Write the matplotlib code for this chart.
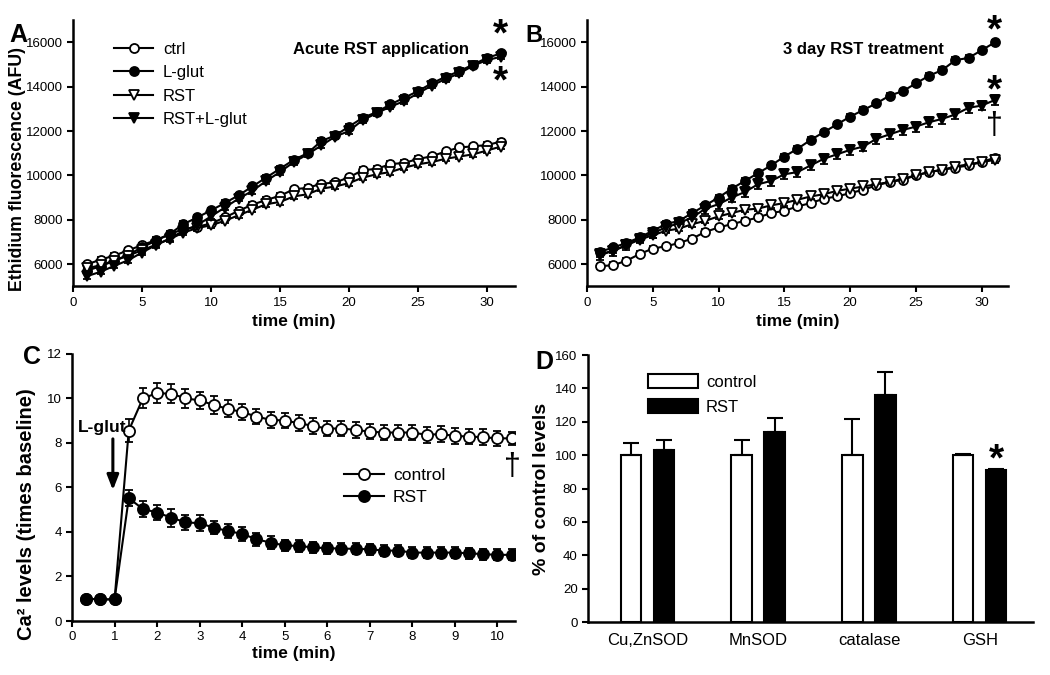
import numpy as np
import matplotlib
matplotlib.use('Agg')
import matplotlib.pyplot as plt

plt.rcParams['font.family'] = ['Liberation Sans', 'DejaVu Sans']

# panel A: acute RST application
t_ab = np.arange(1, 32)
a_ctrl = [5980, 6200, 6380, 6620, 6850, 7080, 7340, 7580, 7680, 7830, 8100, 8400, 8680, 8890, 9080,
          9370, 9440, 9620, 9680, 9910, 10240, 10290, 10510, 10560, 10740, 10860, 11080, 11260, 11310, 11370, 11520]
a_glut = [5700, 5900, 6150, 6420, 6750, 7050, 7350, 7800, 8100, 8420, 8750, 9100, 9500, 9900, 10300,
          10700, 11000, 11550, 11800, 12200, 12600, 12850, 13200, 13500, 13800, 14150, 14450, 14700, 15000, 15300, 15500]
a_rst = [5800, 5950, 6150, 6380, 6620, 6870, 7120, 7420, 7620, 7750, 7950, 8200, 8450, 8700, 8800,
         9050, 9150, 9400, 9500, 9650, 9900, 10050, 10150, 10350, 10500, 10600, 10750, 10850, 10950, 11120, 11300]
a_rstglut = [5450, 5650, 5920, 6170, 6520, 6850, 7150, 7500, 7750, 8150, 8550, 8950, 9300, 9750, 10150,
             10600, 10950, 11350, 11750, 12000, 12500, 12800, 13100, 13350, 13700, 14050, 14350, 14600, 14950, 15200, 15350]
a_err = 120

# panel B: 3 day RST treatment
b_ctrl = [5900, 5950, 6150, 6450, 6700, 6800, 6950, 7150, 7450, 7650, 7800, 7950, 8100, 8300, 8400,
          8600, 8750, 8950, 9050, 9200, 9350, 9550, 9700, 9800, 10000, 10150, 10250, 10350, 10450, 10600, 10800]
b_glut = [6550, 6750, 6950, 7200, 7500, 7800, 7950, 8300, 8650, 9000, 9400, 9750, 10100, 10450, 10850,
          11200, 11600, 11950, 12300, 12650, 12950, 13250, 13600, 13800, 14150, 14500, 14750, 15200, 15300, 15650, 16000]
b_rst = [6450, 6600, 6850, 7100, 7300, 7500, 7600, 7800, 7950, 8150, 8300, 8450, 8500, 8650, 8750,
         8900, 9050, 9150, 9300, 9400, 9500, 9600, 9700, 9850, 10000, 10150, 10250, 10400, 10500, 10600, 10700]
b_rstglut = [6400, 6600, 6850, 7150, 7400, 7650, 7850, 8100, 8500, 8700, 9000, 9250, 9600, 9750, 10050,
             10150, 10450, 10750, 10950, 11150, 11300, 11650, 11850, 12050, 12200, 12400, 12550, 12750, 13050, 13150, 13400]
b_err_small = 120
b_err_rg = 220

# panel C: Ca2+ levels
t_c = np.arange(1, 32) / 3.0
c_ctrl = [1.0, 0.97, 0.97, 8.55, 10.0, 10.23, 10.2, 10.0, 9.9, 9.7, 9.52, 9.38, 9.18, 9.03, 9.0,
          8.88, 8.76, 8.64, 8.64, 8.58, 8.5, 8.46, 8.46, 8.46, 8.36, 8.39, 8.31, 8.28, 8.25, 8.2, 8.2]
c_ctrl_err = [0.1, 0.1, 0.1, 0.5, 0.45, 0.45, 0.42, 0.42, 0.4, 0.4, 0.38, 0.36, 0.35, 0.35, 0.35,
              0.35, 0.35, 0.35, 0.35, 0.35, 0.35, 0.35, 0.35, 0.35, 0.35, 0.35, 0.35, 0.35, 0.35, 0.35, 0.3]
c_rst = [1.0, 0.97, 0.97, 5.51, 5.03, 4.87, 4.64, 4.43, 4.39, 4.19, 4.04, 3.91, 3.67, 3.52, 3.39,
         3.37, 3.3, 3.27, 3.25, 3.24, 3.22, 3.16, 3.16, 3.07, 3.07, 3.07, 3.07, 3.04, 3.0, 2.97, 2.97]
c_rst_err = [0.1, 0.1, 0.1, 0.35, 0.35, 0.35, 0.4, 0.35, 0.35, 0.3, 0.3, 0.3, 0.3, 0.3, 0.25,
             0.25, 0.25, 0.25, 0.25, 0.25, 0.25, 0.25, 0.25, 0.25, 0.25, 0.25, 0.25, 0.25, 0.25, 0.25, 0.25]

# panel D: antioxidant levels
d_labels = ['Cu,ZnSOD', 'MnSOD', 'catalase', 'GSH']
d_ctrl = [100, 100, 100, 100]
d_ctrl_err = [7.5, 9, 21.5, 0.8]
d_rst = [103, 114, 136, 91]
d_rst_err = [6, 8, 14, 0.8]


def style_axes(ax):
    for s in ['top', 'right']:
        ax.spines[s].set_visible(False)
    for s in ['left', 'bottom']:
        ax.spines[s].set_linewidth(1.8)
    ax.tick_params(direction='out', width=1.5, length=4, labelsize=9.5)


def plot_series(ax, x, y, err, marker, fill, label, ms=6.5):
    ax.errorbar(x, y, yerr=err, color='black', marker=marker, markersize=ms,
                markerfacecolor=fill, markeredgecolor='black', markeredgewidth=1.3,
                linewidth=1.5, elinewidth=1.2, capsize=2.8, capthick=1.2, label=label)


def line_legend(ax, fs=12, **kw):
    handles, labels = ax.get_legend_handles_labels()
    handles = [h[0] for h in handles]
    ax.legend(handles, labels, frameon=False, fontsize=fs, **kw)


fig = plt.figure(figsize=(10.5, 6.75), dpi=100)
axA = fig.add_axes([0.0695, 0.576, 0.4205, 0.394])
axB = fig.add_axes([0.559, 0.576, 0.401, 0.394])
axC = fig.add_axes([0.0686, 0.080, 0.4214, 0.396])
axD = fig.add_axes([0.560, 0.0785, 0.424, 0.3955])

# A
plot_series(axA, t_ab, a_ctrl, a_err, 'o', 'white', 'ctrl')
plot_series(axA, t_ab, a_glut, a_err, 'o', 'black', 'L-glut')
plot_series(axA, t_ab, a_rst, a_err, 'v', 'white', 'RST')
plot_series(axA, t_ab, a_rstglut, a_err, 'v', 'black', 'RST+L-glut')
axA.set_xlim(0, 32)
axA.set_ylim(5000, 17000)
axA.set_xticks([0, 5, 10, 15, 20, 25, 30])
axA.set_yticks([6000, 8000, 10000, 12000, 14000, 16000])
axA.set_xlabel('time (min)', fontsize=12.5, fontweight='bold')
axA.set_ylabel('Ethidium fluorescence (AFU)', fontsize=12.8, fontweight='bold')
axA.yaxis.set_label_coords(-0.107, 0.44)
axA.text(22.3, 15700, 'Acute RST application', fontsize=12, fontweight='bold', ha='center', va='center')
axA.text(31, 16300, '*', fontsize=28, fontweight='bold', ha='center', va='center')
axA.text(31, 14200, '*', fontsize=28, fontweight='bold', ha='center', va='center')
line_legend(axA, loc='upper left', bbox_to_anchor=(0.06, 0.975), handlelength=2.3,
            labelspacing=0.5, handletextpad=0.6)
style_axes(axA)

# B
plot_series(axB, t_ab, b_ctrl, b_err_small, 'o', 'white', 'ctrl')
plot_series(axB, t_ab, b_glut, b_err_small, 'o', 'black', 'L-glut')
plot_series(axB, t_ab, b_rst, b_err_small, 'v', 'white', 'RST')
plot_series(axB, t_ab, b_rstglut, b_err_rg, 'v', 'black', 'RST+L-glut')
axB.set_xlim(0, 32)
axB.set_ylim(5000, 17000)
axB.set_xticks([0, 5, 10, 15, 20, 25, 30])
axB.set_yticks([6000, 8000, 10000, 12000, 14000, 16000])
axB.set_xlabel('time (min)', fontsize=12.5, fontweight='bold')
axB.text(21, 15700, '3 day RST treatment', fontsize=12, fontweight='bold', ha='center', va='center')
axB.text(31, 16500, '*', fontsize=28, fontweight='bold', ha='center', va='center')
axB.text(31, 13800, '*', fontsize=28, fontweight='bold', ha='center', va='center')
axB.text(31, 12250, '\u2020', fontsize=22, ha='center', va='center')
style_axes(axB)

# C
plot_series(axC, t_c, c_ctrl, c_ctrl_err, 'o', 'white', 'control', ms=8)
plot_series(axC, t_c, c_rst, c_rst_err, 'o', 'black', 'RST', ms=8)
axC.set_xlim(0, 10.4)
axC.set_ylim(0, 12)
axC.set_xticks(range(0, 11))
axC.set_yticks([0, 2, 4, 6, 8, 10, 12])
axC.set_xlabel('time (min)', fontsize=12.5, fontweight='bold', labelpad=2)
axC.set_ylabel('Ca\u00b2 levels (times baseline)', fontsize=14.5, fontweight='bold')
axC.yaxis.set_label_coords(-0.082, 0.40)
axC.annotate('', xy=(0.96, 5.75), xytext=(0.96, 8.3),
             arrowprops=dict(arrowstyle='-|>,head_width=0.35,head_length=0.9', color='black', lw=2.2))
axC.text(0.72, 8.7, 'L-glut', fontsize=12.5, fontweight='bold', ha='center', va='center')
axC.text(10.35, 6.9, '\u2020', fontsize=22, ha='center', va='center')
line_legend(axC, fs=12.5, loc='upper left', bbox_to_anchor=(0.58, 0.63), handlelength=2.3,
            labelspacing=0.4, handletextpad=0.5)
style_axes(axC)

# D
xd = np.arange(len(d_labels))
axD.bar(xd - 0.149, d_ctrl, 0.185, color='white', edgecolor='black', linewidth=1.5, label='control')
axD.errorbar(xd - 0.149, d_ctrl, yerr=[np.zeros(4), d_ctrl_err], fmt='none', ecolor='black',
             elinewidth=1.5, capsize=6, capthick=1.5)
axD.bar(xd + 0.149, d_rst, 0.185, color='black', edgecolor='black', linewidth=1.5, label='RST')
axD.errorbar(xd + 0.149, d_rst, yerr=[np.zeros(4), d_rst_err], fmt='none', ecolor='black',
             elinewidth=1.5, capsize=6, capthick=1.5)
axD.set_xlim(-0.537, 3.483)
axD.set_ylim(0, 160)
axD.set_xticks(xd)
axD.set_xticklabels(d_labels)
axD.set_yticks(range(0, 161, 20))
axD.set_ylabel('% of control levels', fontsize=14, fontweight='bold', labelpad=4)
axD.text(3.149, 97, '*', fontsize=28, fontweight='bold', ha='center', va='center')
style_axes(axD)
axD.tick_params(axis='x', length=0, labelsize=12, pad=8)
axD.legend(loc='upper left', bbox_to_anchor=(0.1, 0.985), frameon=False, fontsize=12,
           handlelength=3.0, handleheight=0.9, labelspacing=0.55, handletextpad=0.5)

# panel letters
fig.text(0.009, 0.948, 'A', fontsize=18, fontweight='bold', va='center')
fig.text(0.500, 0.948, 'B', fontsize=17, fontweight='bold', va='center')
fig.text(0.022, 0.471, 'C', fontsize=18, fontweight='bold', va='center')
fig.text(0.510, 0.463, 'D', fontsize=18, fontweight='bold', va='center')

fig.savefig('out.png', dpi=100)
